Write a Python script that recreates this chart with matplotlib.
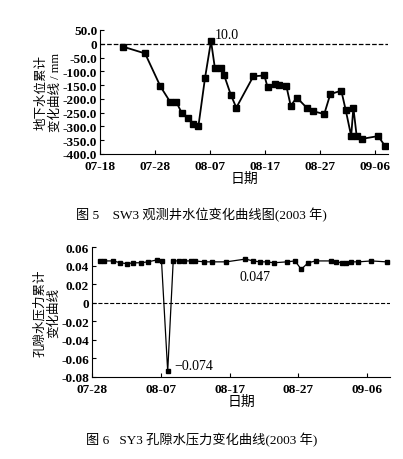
import matplotlib
matplotlib.use("Agg")
import matplotlib.pyplot as plt
from datetime import date, timedelta

plt.rcParams['font.family'] = ['Liberation Serif', 'Noto Sans CJK SC']
plt.rcParams['axes.unicode_minus'] = True

base = date(2003, 7, 18)

# SW3 water level (days since 07-18, mm)
sw_day = [4.1, 8.2, 11, 12.8, 13.9, 14.9, 16, 17, 17.9, 19.1, 20.2, 20.9, 22, 22.6, 23.8,
          24.8, 27.9, 29.9, 30.5, 31.9, 32.5, 33.9, 34.7, 35.8, 37.6, 38.8, 40.8, 41.9,
          43.9, 44.7, 45.7, 46.1, 46.7, 47.7, 50.6, 51.9]
sw_val = [-10, -35, -155, -212, -212, -252, -268, -290, -300, -125, 10, -88, -88, -115,
          -185, -232, -118, -115, -158, -145, -150, -153, -225, -195, -232, -245, -255,
          -183, -170, -240, -335, -232, -335, -345, -335, -372]

# SY3 pore pressure
sy_day = [11.1, 11.8, 13.1, 14.1, 15.1, 16.0, 17.1, 18.1, 19.4, 20.1, 21.0, 21.8, 22.6,
          23.4, 24.4, 25.0, 26.3, 27.4, 29.5, 32.3, 33.4, 34.4, 35.4, 36.4, 38.3, 39.5,
          40.4, 41.4, 42.5, 44.7, 45.5, 46.3, 46.9, 47.7, 48.7, 50.6, 52.8]
sy_val = [0.045, 0.045, 0.045, 0.043, 0.042, 0.043, 0.043, 0.044, 0.046, 0.045, -0.074,
          0.045, 0.045, 0.045, 0.045, 0.045, 0.044, 0.044, 0.044, 0.047, 0.045, 0.044,
          0.044, 0.043, 0.044, 0.045, 0.036, 0.043, 0.045, 0.045, 0.044, 0.043, 0.043,
          0.044, 0.044, 0.045, 0.044]

xt_days = [0, 10, 20, 30, 40, 50]
xt_lab = [(base + timedelta(d)).strftime('%m-%d') for d in xt_days]

fig = plt.figure(figsize=(4.03, 4.60), dpi=100)

ax1 = fig.add_axes([100/403, 1-155/460, 288/403, 124/460])
ax1.plot(sw_day, sw_val, '-s', color='black', ms=4, lw=1.3)
ax1.axhline(0, color='black', ls='--', lw=0.9)
ax1.set_xlim(0, 52.4)
ax1.set_ylim(-400, 50)
ax1.set_yticks(range(-400, 51, 50))
ax1.set_yticklabels(['0' if v == 0 else f'{v:.1f}' for v in range(-400, 51, 50)])
ax1.set_xticks(xt_days)
ax1.set_xticklabels(xt_lab)
ax1.annotate('10.0', (20.2, 10), xytext=(3, 2), textcoords='offset points', fontsize=10)
ax1.set_xlabel('日期', fontsize=10, labelpad=0)
ax1.set_ylabel('地下水位累计\n变化曲线 / mm', fontsize=9, labelpad=1, linespacing=1.1)

ax2 = fig.add_axes([92/403, 1-378/460, 298/403, 130/460])
ax2.plot(sy_day, sy_val, '-s', color='black', ms=3.5, lw=0.9)
ax2.axhline(0, color='black', ls='--', lw=0.8)
ax2.set_xlim(10, 53.3)
ax2.set_ylim(-0.08, 0.06)
yt = [-0.08, -0.06, -0.04, -0.02, 0, 0.02, 0.04, 0.06]
ax2.set_yticks(yt)
ax2.set_yticklabels(['0' if v == 0 else f'{v:.2f}' for v in yt])
ax2.set_xticks(xt_days[1:])
ax2.set_xticklabels(xt_lab[1:])
ax2.annotate('\u22120.074', (21.0, -0.074), xytext=(5, 2), textcoords='offset points', fontsize=10)
ax2.annotate('0.047', (32.3, 0.047), xytext=(-4, -15), textcoords='offset points', fontsize=10)
ax2.set_xlabel('日期', fontsize=10, labelpad=0)
ax2.set_ylabel('孔隙水压力累计\n变化曲线', fontsize=9, labelpad=1, linespacing=1.1)

for ax in (ax1, ax2):
    ax.spines['top'].set_visible(False)
    ax.spines['right'].set_visible(False)
    ax.tick_params(direction='in', labelsize=9.5, length=3, pad=2)
    ax.tick_params(axis='x', pad=4)
    for lab in ax.get_xticklabels() + ax.get_yticklabels():
        lab.set_fontweight('bold')

fig.text(0.5, 1-215/460, '图 5    SW3 观测井水位变化曲线图(2003 年)', ha='center', va='center', fontsize=9.5)
fig.text(0.5, 1-440/460, '图 6   SY3 孔隙水压力变化曲线(2003 年)', ha='center', va='center', fontsize=9.5)

fig.savefig('out.png', dpi=100)
